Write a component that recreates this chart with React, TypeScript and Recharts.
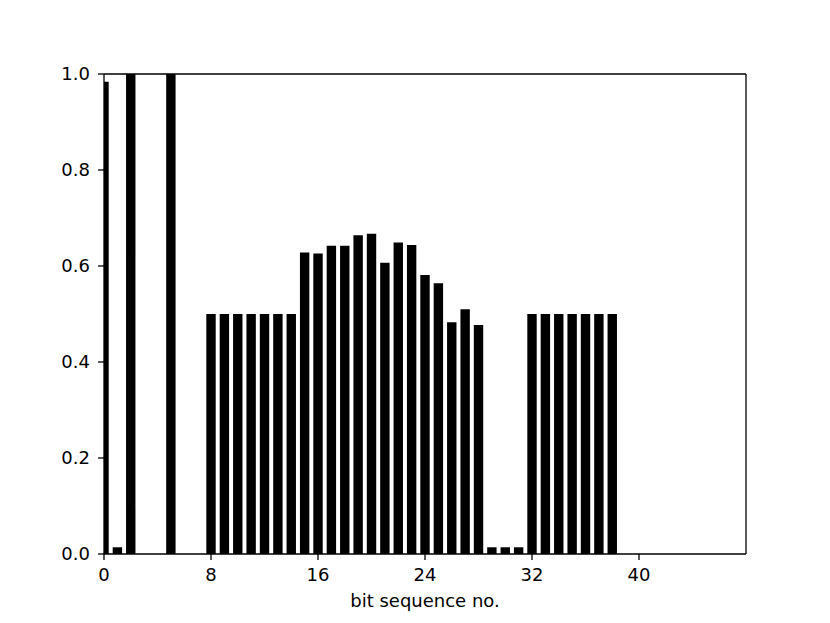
import React from 'react';
import { BarChart, Bar, XAxis, YAxis, ReferenceLine } from 'recharts';

const bitNumbers: number[] = Array.from({ length: 39 }, (_, i) => i);
const bitValues: number[] = [
  0.984, 0.014, 1.0, 0, 0, 1.0, 0, 0,
  0.5, 0.5, 0.5, 0.5, 0.5, 0.5, 0.5,
  0.628, 0.626, 0.642, 0.642, 0.664, 0.667, 0.607, 0.649, 0.644, 0.581, 0.564, 0.483, 0.51, 0.477,
  0.014, 0.014, 0.014,
  0.5, 0.5, 0.5, 0.5, 0.5, 0.5, 0.5,
];
const xTicks: number[] = [0, 8, 16, 24, 32, 40];
const yTicks: number[] = [0, 0.2, 0.4, 0.6, 0.8, 1.0];

const data = bitNumbers.map((b, i) => ({ bit: b, value: bitValues[i] }));

const FONT = 'DejaVu Sans';
const FS = 18;
const tickStyle = { fill: '#000', fontSize: FS, fontFamily: FONT };
const LW = 1.3;

export default function App() {
  return (
    <div style={{ position: 'absolute', left: 0, top: 0, background: '#fff', fontFamily: FONT, fontSize: FS }}>
      <BarChart
        width={830}
        height={623}
        data={data}
        margin={{ top: 74, right: 84, left: 44, bottom: 19 }}
        barCategoryGap={0}
        style={{ fontFamily: FONT, fontSize: FS }}
      >
        <XAxis
          dataKey="bit"
          type="number"
          domain={[0, 48]}
          ticks={xTicks}
          allowDataOverflow
          interval={0}
          height={50}
          tickSize={6}
          tickMargin={8}
          tick={tickStyle}
          fontSize={FS}
          fontFamily={FONT}
          axisLine={{ stroke: '#000', strokeWidth: LW }}
          tickLine={{ stroke: '#000', strokeWidth: LW }}
          label={{ value: 'bit sequence no.', position: 'insideBottom', offset: -3, fill: '#000', fontSize: FS, fontFamily: FONT }}
        />
        <YAxis
          type="number"
          domain={[0, 1]}
          ticks={yTicks}
          allowDataOverflow
          interval={0}
          width={60}
          tickSize={6}
          tickMargin={8}
          tick={tickStyle}
          fontSize={FS}
          fontFamily={FONT}
          tickFormatter={(v: number) => v.toFixed(1)}
          axisLine={{ stroke: '#000', strokeWidth: LW }}
          tickLine={{ stroke: '#000', strokeWidth: LW }}
        />
        <Bar dataKey="value" fill="#000" barSize={9.4} isAnimationActive={false} />
        <ReferenceLine y={1} stroke="#000" strokeWidth={LW} ifOverflow="visible" />
        <ReferenceLine x={48} stroke="#000" strokeWidth={LW} ifOverflow="visible" />
      </BarChart>
    </div>
  );
}
